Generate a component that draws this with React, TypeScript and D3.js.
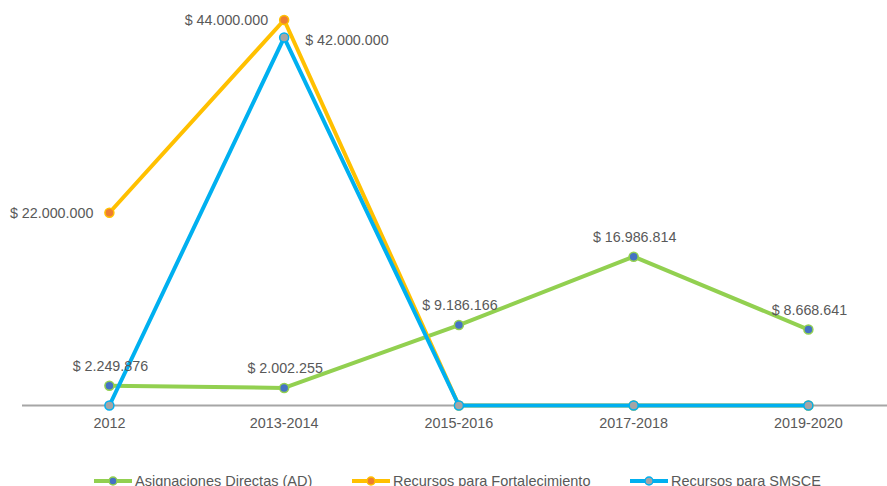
import React from "react";
import * as d3 from "d3";

const categories = ["2012", "2013-2014", "2015-2016", "2017-2018", "2019-2020"];
const asignaciones = [2249876, 2002255, 9186166, 16986814, 8668641];
const fortalecimiento = [22000000, 44000000, 0, 0, 0];
const smsce = [0, 42000000, 0, 0, 0];
const seriesNames = ["Asignaciones Directas (AD)", "Recursos para Fortalecimiento", "Recursos para SMSCE"];

const W = 887;
const H = 486;

const fmt = (v: number) => "$ " + d3.format(",")(v).replace(/,/g, ".");

export default function App() {
  const x = d3.scalePoint<string>().domain(categories).range([109.4, 808.4]);
  const y = d3.scaleLinear().domain([0, 44000000]).range([405.5, 20]);
  const line = d3
    .line<number>()
    .x((_, i) => x(categories[i]) as number)
    .y((d) => y(d));

  const series = [
    { name: seriesNames[0], values: asignaciones, stroke: "#92D050", fill: "#4472C4" },
    { name: seriesNames[1], values: fortalecimiento, stroke: "#FFC000", fill: "#ED7D31" },
    { name: seriesNames[2], values: smsce, stroke: "#00B0F0", fill: "#A5A5A5" },
  ];

  const labelPos: (string | null)[][] = [
    ["above", "above", "above", "above", "above"],
    ["left", "left", null, null, null],
    [null, "right", null, null, null],
  ];

  const textColor = "#595959";
  const legendX = [94, 352, 630];
  const lfs = 14.3;

  return (
    <svg width={W} height={H} style={{ position: "absolute", left: 0, top: 0 }} fontFamily="'Liberation Sans', Arial, sans-serif">
      <line x1={22} x2={W} y1={y(0)} y2={y(0)} stroke="#A6A6A6" strokeWidth={2} />
      {categories.map((c) => (
        <text key={c} x={x(c)} y={428} textAnchor="middle" fontSize={14.4} fill={textColor}>
          {c}
        </text>
      ))}
      {series.map((s) => (
        <g key={s.name}>
          <path d={line(s.values) || ""} fill="none" stroke={s.stroke} strokeWidth={4} strokeLinejoin="round" />
          {s.values.map((v, i) => (
            <circle key={i} cx={x(categories[i])} cy={y(v)} r={4.5} fill={s.fill} stroke={s.stroke} strokeWidth={1.5} />
          ))}
        </g>
      ))}
      {series.map((s, si) =>
        s.values.map((v, i) => {
          const pos = labelPos[si][i];
          if (!pos) return null;
          const px = x(categories[i]) as number;
          const py = y(v);
          if (pos === "above")
            return (
              <text key={si + "-" + i} x={px + 1} y={py - 15} textAnchor="middle" fontSize={lfs} fill={textColor}>
                {fmt(v)}
              </text>
            );
          if (pos === "left")
            return (
              <text key={si + "-" + i} x={px - 16} y={py + 5} textAnchor="end" fontSize={lfs} fill={textColor}>
                {fmt(v)}
              </text>
            );
          return (
            <text key={si + "-" + i} x={px + 21} y={py + 7} textAnchor="start" fontSize={lfs} fill={textColor}>
              {fmt(v)}
            </text>
          );
        })
      )}
      {series.map((s, si) => (
        <g key={"leg" + si} transform={`translate(${legendX[si]},481)`}>
          <line x1={0} x2={38} y1={0} y2={0} stroke={s.stroke} strokeWidth={4} />
          <circle cx={19} cy={0} r={4} fill={s.fill} stroke={s.stroke} strokeWidth={1.5} />
          <text x={41} y={5} fontSize={14.5} fill={textColor}>
            {s.name}
          </text>
        </g>
      ))}
    </svg>
  );
}
